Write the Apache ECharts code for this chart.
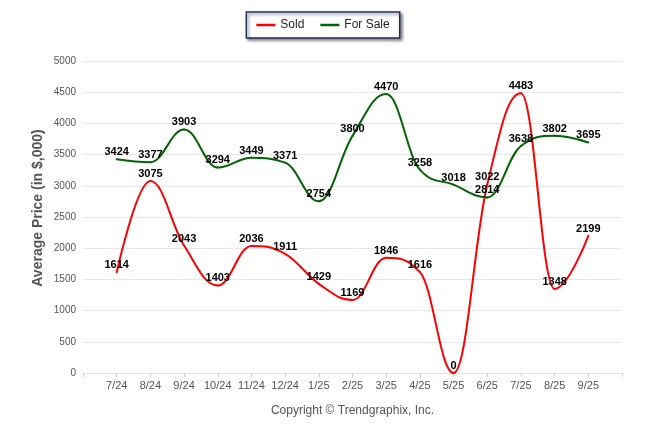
<!DOCTYPE html>
<html>
<head>
<meta charset="utf-8">
<script src="https://cdn.jsdelivr.net/npm/echarts@6/dist/echarts.min.js"></script>
<style>
html,body{margin:0;padding:0;background:#fff;}
#c{width:646px;height:434px;}
</style>
</head>
<body>
<div id="c"></div>
<script>
const months = ['7/24','8/24','9/24','10/24','11/24','12/24','1/25','2/25','3/25','4/25','5/25','6/25','7/25','8/25','9/25'];
const sold = [1614, 3075, 2043, 1403, 2036, 1911, 1429, 1169, 1846, 1616, 0, 3022, 4483, 1348, 2199];
const forSale = [3424, 3377, 3903, 3294, 3449, 3371, 2754, 3800, 4470, 3258, 3018, 2814, 3638, 3802, 3695];
const yTicks = [0, 500, 1000, 1500, 2000, 2500, 3000, 3500, 4000, 4500, 5000];

const RED = '#ff0000';
const GREEN = '#006400';

// pad with an empty slot at each end of the category axis
const cats = [''].concat(months, ['']);
const pad = arr => ['-'].concat(arr, ['-']);
const pairs = arr => arr.map((v, i) => [i + 1, v]);

// spline control points (smoothing 1.5, clamped at extremes)
function controls(pts) {
  const n = pts.length;
  const res = pts.map(p => ({ lx: p[0], ly: p[1], rx: p[0], ry: p[1] }));
  const s = 1.5, d = s + 1;
  for (let i = 1; i < n - 1; i++) {
    const [px, py] = pts[i];
    const [ax, ay] = pts[i - 1];
    const [bx, by] = pts[i + 1];
    let lx = (s * px + ax) / d, ly = (s * py + ay) / d;
    let rx = (s * px + bx) / d, ry = (s * py + by) / d;
    const corr = ((ry - ly) * (rx - px)) / (rx - lx) + py - ry;
    ly += corr; ry += corr;
    if (ly > ay && ly > py) { ly = Math.max(ay, py); ry = 2 * py - ly; }
    else if (ly < ay && ly < py) { ly = Math.min(ay, py); ry = 2 * py - ly; }
    if (ry > by && ry > py) { ry = Math.max(by, py); ly = 2 * py - ry; }
    else if (ry < by && ry < py) { ry = Math.min(by, py); ly = 2 * py - ry; }
    res[i] = { lx, ly, rx, ry };
  }
  return res;
}

function splineSeries(name, values, color) {
  return {
    name: name + ' curve', type: 'custom', silent: true, clip: false,
    data: pairs(values), encode: { x: 0, y: 1 },
    z: 2,
    renderItem: function (params, api) {
      const i = params.dataIndex;
      if (i === 0) return null;
      const pts = values.map((v, k) => api.coord([k + 1, v]));
      const c = controls(pts);
      return {
        type: 'bezierCurve',
        shape: {
          x1: pts[i - 1][0], y1: pts[i - 1][1],
          cpx1: c[i - 1].rx, cpy1: c[i - 1].ry,
          cpx2: c[i].lx, cpy2: c[i].ly,
          x2: pts[i][0], y2: pts[i][1]
        },
        style: { stroke: color, lineWidth: 2, fill: null, lineCap: 'round' }
      };
    }
  };
}

const chart = echarts.init(document.getElementById('c'));
const font = 'Liberation Sans, Arial, sans-serif';
const labelCfg = {
  show: true, position: 'top', distance: 1,
  color: '#000', fontWeight: 'bold', fontSize: 11, fontFamily: font
};
chart.setOption({
  animation: false,
  textStyle: { fontFamily: font },
  legend: {
    top: 12, left: 'center',
    padding: [7, 10],
    itemWidth: 19, itemHeight: 2.5, itemGap: 16,
    icon: 'rect',
    backgroundColor: '#fff',
    borderColor: '#1c2e5c', borderWidth: 1.5,
    shadowColor: 'rgba(0,0,0,0.45)', shadowBlur: 3, shadowOffsetX: 2, shadowOffsetY: 2,
    textStyle: { fontSize: 12, color: '#222', fontFamily: font },
    data: [
      { name: 'Sold', itemStyle: { color: RED } },
      { name: 'For Sale', itemStyle: { color: GREEN } }
    ]
  },
  grid: { left: 83, right: 24, top: 61, bottom: 61, containLabel: false },
  graphic: [{
    type: 'text', x: 38, y: 208, rotation: Math.PI / 2,
    style: {
      text: 'Average Price (in $,000)', align: 'center', verticalAlign: 'middle',
      fill: '#555', font: 'bold 14px Liberation Sans, Arial, sans-serif'
    }
  }],
  xAxis: {
    type: 'category', data: cats, boundaryGap: false,
    axisLine: { lineStyle: { color: '#e0e0e0' } },
    axisTick: { show: true, length: 4, lineStyle: { color: '#d0d0d0' } },
    axisLabel: { color: '#555', fontSize: 11, margin: 7, interval: 0 },
    splitLine: { show: false },
    name: 'Copyright \u00A9 Trendgraphix, Inc.',
    nameLocation: 'middle', nameGap: 32,
    nameTextStyle: { color: '#555', fontSize: 12 }
  },
  yAxis: {
    type: 'value', min: 0, max: 5000, interval: 500,
    axisLine: { show: false },
    axisTick: { show: false },
    axisLabel: { color: '#555', fontSize: 10, margin: 7,
      formatter: v => yTicks.includes(v) ? String(v) : '' },
    splitLine: { lineStyle: { color: '#e8e8e8' } }
  },
  series: [
    splineSeries('Sold', sold, RED),
    splineSeries('For Sale', forSale, GREEN),
    {
      name: 'Sold', type: 'line', data: pad(sold),
      showSymbol: true, symbol: 'circle', symbolSize: 1,
      lineStyle: { opacity: 0, width: 0 },
      itemStyle: { color: 'rgba(0,0,0,0)' },
      label: labelCfg, z: 5
    },
    {
      name: 'For Sale', type: 'line', data: pad(forSale),
      showSymbol: true, symbol: 'circle', symbolSize: 1,
      lineStyle: { opacity: 0, width: 0 },
      itemStyle: { color: 'rgba(0,0,0,0)' },
      label: labelCfg, z: 5
    }
  ]
});
</script>
</body>
</html>
